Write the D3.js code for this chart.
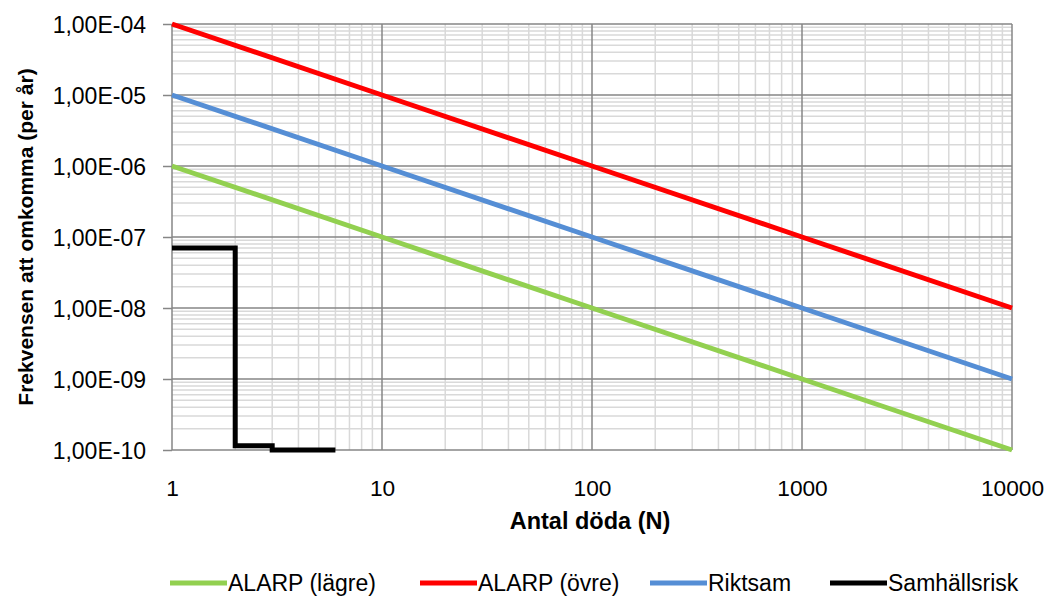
<!DOCTYPE html>
<html>
<head>
<meta charset="utf-8">
<script src="https://d3js.org/d3.v7.min.js"></script>
<style>
body { margin: 0; background: #fff; }
text { font-family: "Liberation Sans", Arial, sans-serif; fill: #000; }
</style>
</head>
<body>
<script>
var nValues = [1, 10, 100, 1000, 10000];
var alarpLower = [1e-6, 1e-7, 1e-8, 1e-9, 1e-10];
var alarpUpper = [1e-4, 1e-5, 1e-6, 1e-7, 1e-8];
var riktsam = [1e-5, 1e-6, 1e-7, 1e-8, 1e-9];
var samN = [1, 2, 3, 6];
var samF = [7e-8, 1.15e-10, 1.0e-10, 1.0e-10];

var yTicks = [1e-4, 1e-5, 1e-6, 1e-7, 1e-8, 1e-9, 1e-10];
var yLabels = ["1,00E-04", "1,00E-05", "1,00E-06", "1,00E-07", "1,00E-08", "1,00E-09", "1,00E-10"];
var xTicks = [1, 10, 100, 1000, 10000];

var series = [
    { name: "ALARP (lägre)", color: "#92d050", y: alarpLower },
    { name: "ALARP (övre)", color: "#ff0000", y: alarpUpper },
    { name: "Riktsam", color: "#558ed5", y: riktsam }
];

var width = 1048, height = 597;
var pLeft = 172, pRight = 1012, pTop = 24, pBottom = 450;

var svg = d3.select("body").append("svg")
    .attr("width", width)
    .attr("height", height);

var x = d3.scaleLog().domain([1, 10000]).range([pLeft, pRight]);
var y = d3.scaleLog().domain([1e-10, 1e-4]).range([pBottom, pTop]);

// minor grid
var minorX = [], minorY = [];
for (var d = 1; d < 10000; d *= 10)
    for (var k = 2; k < 10; k++) minorX.push(d * k);
for (var e = 1e-10; e < 1e-4 * 0.999; e *= 10)
    for (var k2 = 2; k2 < 10; k2++) minorY.push(e * k2);

var grid = svg.append("g");
grid.selectAll(".mx").data(minorX).enter().append("line")
    .attr("x1", function(d) { return x(d); }).attr("x2", function(d) { return x(d); })
    .attr("y1", pTop).attr("y2", pBottom)
    .style("stroke", "#d9d9d9").style("stroke-width", 1.5);
grid.selectAll(".my").data(minorY).enter().append("line")
    .attr("x1", pLeft).attr("x2", pRight)
    .attr("y1", function(d) { return y(d); }).attr("y2", function(d) { return y(d); })
    .style("stroke", "#d9d9d9").style("stroke-width", 1.5);
grid.selectAll(".Mx").data(xTicks.slice(1)).enter().append("line")
    .attr("x1", function(d) { return x(d); }).attr("x2", function(d) { return x(d); })
    .attr("y1", pTop).attr("y2", pBottom)
    .style("stroke", "#868686").style("stroke-width", 1.5);
grid.selectAll(".My").data(yTicks.slice(0, -1)).enter().append("line")
    .attr("x1", pLeft).attr("x2", pRight)
    .attr("y1", function(d) { return y(d); }).attr("y2", function(d) { return y(d); })
    .style("stroke", "#868686").style("stroke-width", 1.5);

// axes
var yAxis = d3.axisLeft(y).tickValues(yTicks)
    .tickFormat(function(d, i) { return yLabels[i]; })
    .tickSize(9).tickPadding(17);
var gy = svg.append("g").attr("transform", "translate(" + pLeft + ",0)").call(yAxis);
gy.select(".domain").style("stroke", "#868686").style("stroke-width", 1.5).attr("d", "M0," + pTop + "V" + pBottom);
gy.selectAll(".tick line").style("stroke", "#868686").style("stroke-width", 1.5);
gy.selectAll(".tick text").style("font-size", "23px").attr("dy", "0.36em");

var xAxis = d3.axisBottom(x).tickValues(xTicks)
    .tickFormat(function(d) { return String(d); })
    .tickSize(0).tickPadding(30);
var gx = svg.append("g").attr("transform", "translate(0," + pBottom + ")").call(xAxis);
gx.select(".domain").style("stroke", "#868686").style("stroke-width", 1.5).attr("d", "M" + pLeft + ",0H" + pRight);
gx.selectAll(".tick text").style("font-size", "22.7px");

// lines
var line = d3.line()
    .x(function(d) { return x(d[0]); })
    .y(function(d) { return y(d[1]); });

series.forEach(function(s) {
    svg.append("path")
        .datum(nValues.map(function(n, i) { return [n, s.y[i]]; }))
        .attr("d", line)
        .style("fill", "none")
        .style("stroke", s.color)
        .style("stroke-width", 5);
});

svg.append("path")
    .datum(samN.map(function(n, i) { return [n, samF[i]]; }))
    .attr("d", line.curve(d3.curveStepAfter))
    .style("fill", "none")
    .style("stroke", "#000")
    .style("stroke-width", 5);

// axis titles
svg.append("text")
    .attr("transform", "translate(33," + ((pTop + pBottom) / 2) + ") rotate(-90)")
    .attr("text-anchor", "middle")
    .style("font-size", "21px").style("font-weight", "bold")
    .text("Frekvensen att omkomma (per år)");
svg.append("text")
    .attr("x", 590).attr("y", 529)
    .attr("text-anchor", "middle")
    .style("font-size", "23.5px").style("font-weight", "bold")
    .text("Antal döda (N)");

// legend
var legendItems = series.concat([{ name: "Samhällsrisk", color: "#000" }]);
var legendX = [170, 420, 650, 830];
var lg = svg.append("g");
legendItems.forEach(function(s, i) {
    lg.append("line")
        .attr("x1", legendX[i]).attr("x2", legendX[i] + 57)
        .attr("y1", 583).attr("y2", 583)
        .style("stroke", s.color).style("stroke-width", 5);
    lg.append("text")
        .attr("x", legendX[i] + 58).attr("y", 583).attr("dy", "0.36em")
        .style("font-size", "23px")
        .text(s.name);
});
</script>
</body>
</html>
